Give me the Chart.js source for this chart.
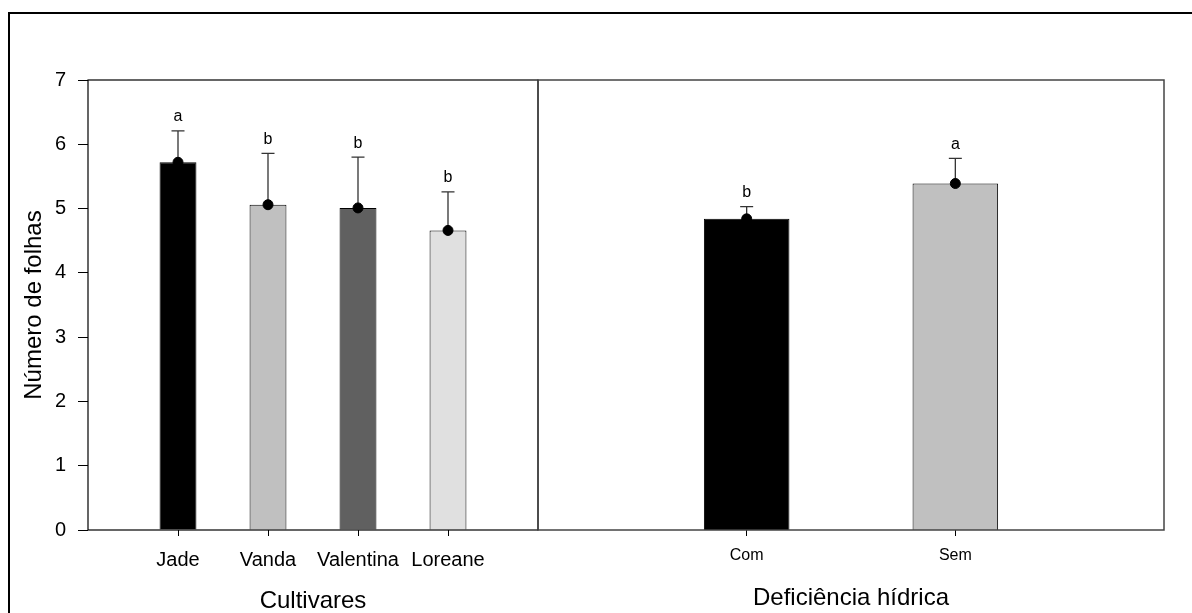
<!DOCTYPE html>
<html>
<head>
<meta charset="utf-8">
<script src="https://cdn.jsdelivr.net/npm/chart.js@4.4.1/dist/chart.umd.min.js"></script>
<style>
  html, body { margin: 0; padding: 0; background: #fff; overflow: hidden; }
  #wrap { position: relative; width: 1192px; height: 613px; overflow: hidden; }
  #frame { position: absolute; left: 8px; top: 12px; width: 1300px; height: 700px; border: 2px solid #000; }
  canvas { position: absolute; left: 0; top: 0; }
</style>
</head>
<body>
<div id="wrap">
  <div id="frame"></div>
  <canvas id="left" width="1192" height="613"></canvas>
  <canvas id="right" width="1192" height="613"></canvas>
</div>
<script>
// valores
var cultivares = ['Jade', 'Vanda', 'Valentina', 'Loreane'];
var cultPos = [1, 2, 3, 4];
var cultMedia = [5.72, 5.06, 5.01, 4.66];
var cultErro = [0.49, 0.80, 0.79, 0.60];
var cultLetras = ['a', 'b', 'b', 'b'];
var cultCores = ['#000000', '#c0c0c0', '#606060', '#e0e0e0'];

var deficiencia = ['Com', 'Sem'];
var defPos = [1, 2];
var defMedia = [4.84, 5.39];
var defErro = [0.19, 0.39];
var defLetras = ['b', 'a'];
var defCores = ['#000000', '#c0c0c0'];

var yMin = 0, yMax = 7;

Chart.defaults.font.family = "'Liberation Sans', Arial, sans-serif";
Chart.defaults.color = '#000';

function painel(pos, media, erro, letras, boxColor, boxWidth) {
  return {
    id: 'painel',
    beforeDatasetsDraw: function(chart) {
      var ctx = chart.ctx, x = chart.scales.x, y = chart.scales.y;
      ctx.save();
      ctx.strokeStyle = '#333';
      ctx.lineWidth = 1.3;
      for (var i = 0; i < pos.length; i++) {
        var px = x.getPixelForValue(pos[i]);
        var y0 = y.getPixelForValue(media[i]);
        var y1 = y.getPixelForValue(media[i] + erro[i]);
        ctx.beginPath();
        ctx.moveTo(px, y0);
        ctx.lineTo(px, y1);
        ctx.moveTo(px - 6.5, y1);
        ctx.lineTo(px + 6.5, y1);
        ctx.stroke();
      }
      ctx.restore();
    },
    afterDatasetsDraw: function(chart) {
      var ctx = chart.ctx, a = chart.chartArea, x = chart.scales.x, y = chart.scales.y;
      ctx.save();
      ctx.fillStyle = '#000';
      ctx.font = "16px 'Liberation Sans', Arial, sans-serif";
      ctx.textAlign = 'center';
      ctx.textBaseline = 'alphabetic';
      for (var i = 0; i < pos.length; i++) {
        var px = x.getPixelForValue(pos[i]);
        var y1 = y.getPixelForValue(media[i] + erro[i]);
        ctx.fillText(letras[i], px, y1 - 9.5);
      }
      ctx.strokeStyle = boxColor;
      ctx.lineWidth = boxWidth;
      ctx.strokeRect(a.left, a.top, a.right - a.left, a.bottom - a.top);
      ctx.restore();
    }
  };
}

function pontos(pos, vals) {
  var d = [];
  for (var i = 0; i < pos.length; i++) d.push({x: pos[i], y: vals[i]});
  return d;
}

new Chart(document.getElementById('left'), {
  type: 'bar',
  data: {
    datasets: [
      {
        type: 'line',
        data: pontos(cultPos, cultMedia),
        showLine: false,
        pointRadius: 5,
        pointBackgroundColor: '#000',
        pointBorderColor: '#000',
        order: 1
      },
      {
        data: pontos(cultPos, cultMedia),
        backgroundColor: cultCores,
        borderColor: '#000',
        borderWidth: 1,
        borderSkipped: 'bottom',
        categoryPercentage: 1,
        barPercentage: 0.41,
        order: 2
      }
    ]
  },
  options: {
    responsive: false,
    animation: false,
    layout: { padding: { left: 0, top: 80, right: 1192 - 538, bottom: 0 } },
    plugins: { legend: { display: false }, tooltip: { enabled: false } },
    scales: {
      x: {
        type: 'linear',
        min: 0, max: 5,
        offset: false,
        afterBuildTicks: function(s) { s.ticks = cultPos.map(function(v) { return {value: v}; }); },
        afterFit: function(s) { s.height = 83; },
        ticks: {
          autoSkip: false, maxRotation: 0, padding: 12,
          font: { size: 20 },
          callback: function(v) { return cultivares[cultPos.indexOf(v)]; }
        },
        grid: { offset: false, drawOnChartArea: false, tickLength: 6, color: '#000', lineWidth: 1 },
        border: { display: false },
        title: { display: true, text: 'Cultivares', font: { size: 24, lineHeight: 1 }, padding: { top: 0, bottom: 0 } }
      },
      y: {
        min: yMin, max: yMax,
        afterFit: function(s) { s.width = 88; },
        ticks: { stepSize: 1, padding: 12, font: { size: 20 } },
        grid: { drawOnChartArea: false, tickLength: 10, color: '#000', lineWidth: 1 },
        border: { display: false },
        title: { display: true, text: 'Número de folhas', font: { size: 24, lineHeight: 1 }, padding: { top: 22, bottom: 0 } }
      }
    }
  },
  plugins: [painel(cultPos, cultMedia, cultErro, cultLetras, '#000', 1.2)]
});

new Chart(document.getElementById('right'), {
  type: 'bar',
  data: {
    datasets: [
      {
        type: 'line',
        data: pontos(defPos, defMedia),
        showLine: false,
        pointRadius: 5,
        pointBackgroundColor: '#000',
        pointBorderColor: '#000',
        order: 1
      },
      {
        data: pontos(defPos, defMedia),
        backgroundColor: defCores,
        borderColor: '#000',
        borderWidth: 1,
        borderSkipped: 'bottom',
        categoryPercentage: 1,
        barPercentage: 0.41,
        order: 2
      }
    ]
  },
  options: {
    responsive: false,
    animation: false,
    layout: { padding: { left: 538, top: 80, right: 1192 - 1164, bottom: 0 } },
    plugins: { legend: { display: false }, tooltip: { enabled: false } },
    scales: {
      x: {
        type: 'linear',
        min: 0, max: 3,
        offset: false,
        afterBuildTicks: function(s) { s.ticks = defPos.map(function(v) { return {value: v}; }); },
        afterFit: function(s) { s.height = 83; },
        ticks: {
          autoSkip: false, maxRotation: 0, padding: 10,
          font: { size: 16 },
          callback: function(v) { return deficiencia[defPos.indexOf(v)]; }
        },
        grid: { offset: false, drawOnChartArea: false, tickLength: 6, color: '#000', lineWidth: 1 },
        border: { display: false },
        title: { display: true, text: 'Deficiência hídrica', font: { size: 24, lineHeight: 1 }, padding: { top: 0, bottom: 3 } }
      },
      y: { display: false, min: yMin, max: yMax }
    }
  },
  plugins: [painel(defPos, defMedia, defErro, defLetras, '#444', 1.5)]
});
</script>
</body>
</html>
